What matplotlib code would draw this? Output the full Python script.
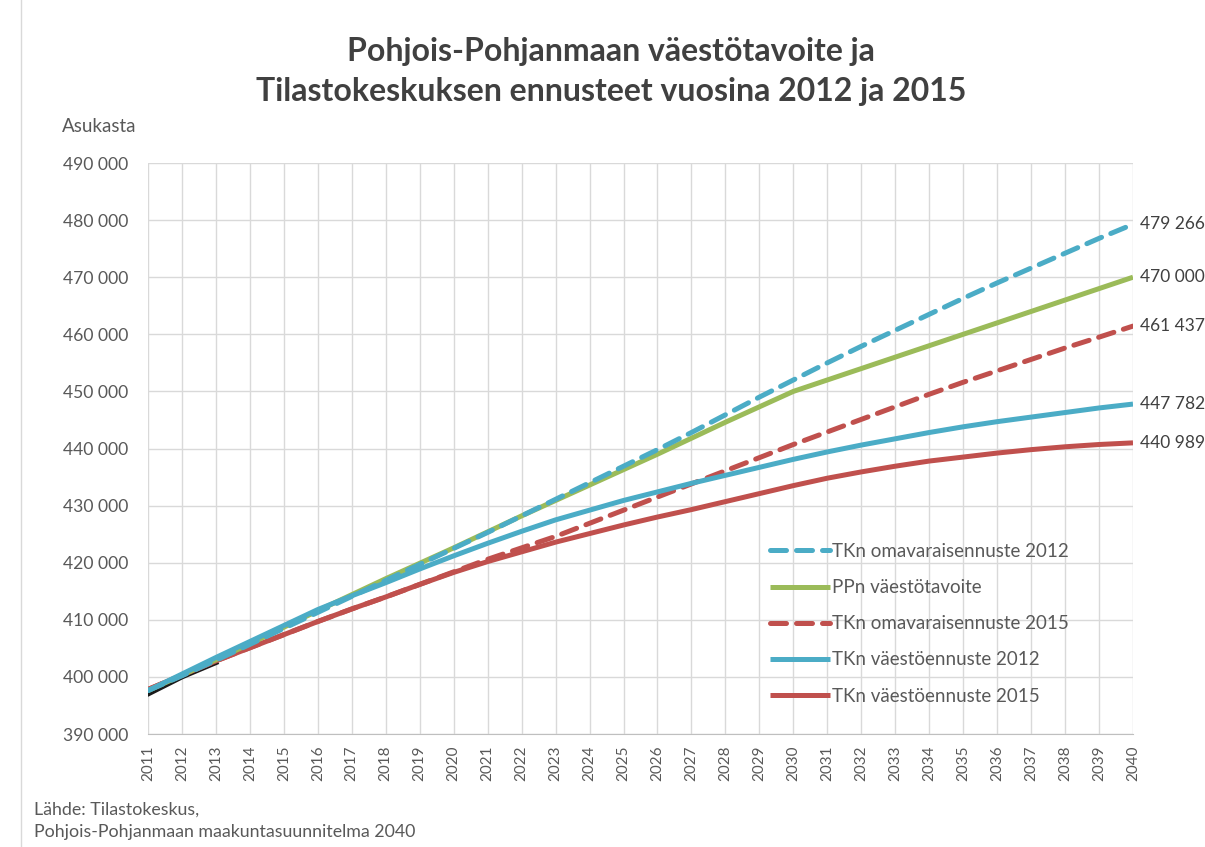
import matplotlib
matplotlib.use("Agg")
import matplotlib.pyplot as plt
from matplotlib.ticker import FuncFormatter
from matplotlib.lines import Line2D

plt.rcParams['font.family'] = ['Lato', 'DejaVu Sans']

years = list(range(2011, 2041))

tk_oma_2012 = [397.6, 400.2, 402.9, 405.7, 408.5, 411.3, 414.1, 416.9, 419.7, 422.5,
               425.3, 428.2, 431.1, 434.0, 436.9, 439.8, 442.8, 445.9, 449.0, 452.0,
               455.0, 457.9, 460.7, 463.5, 466.3, 469.0, 471.6, 474.2, 476.8, 479.266]
ppn_tavoite = [397.6, 400.3, 403.0, 405.8, 408.7, 411.6, 414.4, 417.2, 419.9, 422.6,
               425.4, 428.2, 430.9, 433.6, 436.3, 439.0, 441.8, 444.6, 447.3, 450.0,
               452.0, 454.0, 456.0, 458.0, 460.0, 462.0, 464.0, 466.0, 468.0, 470.0]
tk_oma_2015 = [397.8, 400.3, 402.8, 405.1, 407.4, 409.7, 411.9, 414.0, 416.2, 418.4,
               420.6, 422.6, 424.6, 426.9, 429.2, 431.5, 433.8, 436.1, 438.4, 440.7,
               442.9, 445.1, 447.3, 449.5, 451.6, 453.6, 455.6, 457.6, 459.5, 461.437]
tk_vaesto_2012 = [397.6, 400.5, 403.4, 406.2, 409.0, 411.8, 414.2, 416.5, 418.9, 421.2,
                  423.4, 425.5, 427.5, 429.2, 430.9, 432.4, 433.9, 435.3, 436.7, 438.1,
                  439.4, 440.6, 441.7, 442.8, 443.8, 444.7, 445.5, 446.3, 447.1, 447.782]
tk_vaesto_2015 = [397.8, 400.3, 402.8, 405.1, 407.4, 409.7, 411.9, 414.0, 416.2, 418.3,
                  420.2, 421.9, 423.6, 425.1, 426.6, 428.0, 429.3, 430.7, 432.1, 433.5,
                  434.8, 435.9, 436.9, 437.8, 438.5, 439.2, 439.8, 440.3, 440.7, 440.989]
history_years = [2011, 2012, 2013]
history = [397.0, 400.0, 402.5]

end_labels = ["479 266", "470 000", "461 437", "447 782", "440 989"]

BLUE = "#4BACC6"
GREEN = "#9BBB59"
RED = "#C0504D"
TXT = "#595959"

fig = plt.figure(figsize=(12.05, 8.47), dpi=100)
ax = fig.add_axes([148/1205, 1-734/847, (1133-148)/1205, (734-163)/847])

def k(vals):
    return [v * 1000 for v in vals]

lw = 3.6
ax.plot(history_years, k(history), color="#1a1a1a", lw=lw, zorder=2)
series = [
    (tk_oma_2012, BLUE, "--", "TKn omavaraisennuste 2012"),
    (ppn_tavoite, GREEN, "-", "PPn väestötavoite"),
    (tk_oma_2015, RED, "--", "TKn omavaraisennuste 2015"),
    (tk_vaesto_2012, BLUE, "-", "TKn väestöennuste 2012"),
    (tk_vaesto_2015, RED, "-", "TKn väestöennuste 2015"),
]
z = {0: 5, 1: 4, 2: 3, 3: 4, 4: 3}
handles = []
for i, (vals, c, ls, lab) in enumerate(series):
    if ls == "--":
        ln, = ax.plot(years, k(vals), color=c, lw=lw, label=lab, zorder=z[i],
                      dashes=(3.2, 2.0), dash_capstyle="round")
    else:
        ln, = ax.plot(years, k(vals), color=c, lw=lw, label=lab, zorder=z[i],
                      solid_capstyle="butt")
    handles.append(ln)
    ax.text(2040.2, vals[-1] * 1000, end_labels[i], va="center", ha="left",
            fontsize=12.5, color="#404040")

ax.set_xlim(2011, 2040)
ax.set_ylim(390000, 490000)
ax.set_xticks(years)
ax.set_xticklabels([str(y) for y in years], rotation=90, fontsize=11, color=TXT)
ax.set_yticks(range(390000, 490001, 10000))
ax.yaxis.set_major_formatter(FuncFormatter(lambda v, p: f"{int(v):,}".replace(",", " ")))
ax.tick_params(axis="y", labelsize=12.6, labelcolor=TXT, length=0, pad=14)
ax.tick_params(axis="x", length=0, pad=8)
ax.grid(True, color="#D9D9D9", lw=1.0)
ax.set_axisbelow(True)
for s in ["top", "right", "left"]:
    ax.spines[s].set_visible(False)
ax.spines["bottom"].set_color("#BFBFBF")

leg = ax.legend(handles=handles, loc="upper left",
                bbox_to_anchor=((770 - 148) / 985, (734 - 543) / 571),
                frameon=False, fontsize=13.5, handlelength=3.2, handletextpad=0.1,
                labelspacing=1.02, borderpad=0, borderaxespad=0, labelcolor=TXT)

fig.text(611/1205, 1 - 51/847, "Pohjois-Pohjanmaan väestötavoite ja", ha="center", va="center",
         fontsize=23, fontweight="bold", color="#404040")
fig.text(611/1205, 1 - 91/847, "Tilastokeskuksen ennusteet vuosina 2012 ja 2015", ha="center",
         va="center", fontsize=23, fontweight="bold", color="#404040")
fig.text(62/1205, 1 - 127/847, "Asukasta", ha="left", va="center", fontsize=13.5, color=TXT)
fig.text(34/1205, 1 - 810/847, "Lähde: Tilastokeskus,", ha="left", va="center",
         fontsize=12.8, color=TXT)
fig.text(34/1205, 1 - 832/847, "Pohjois-Pohjanmaan maakuntasuunnitelma 2040", ha="left",
         va="center", fontsize=12.8, color=TXT)

fig.add_artist(Line2D([21/1205, 21/1205], [0, 1], transform=fig.transFigure,
                      color="#D9D9D9", lw=1))

fig.savefig("out.png", dpi=100)
